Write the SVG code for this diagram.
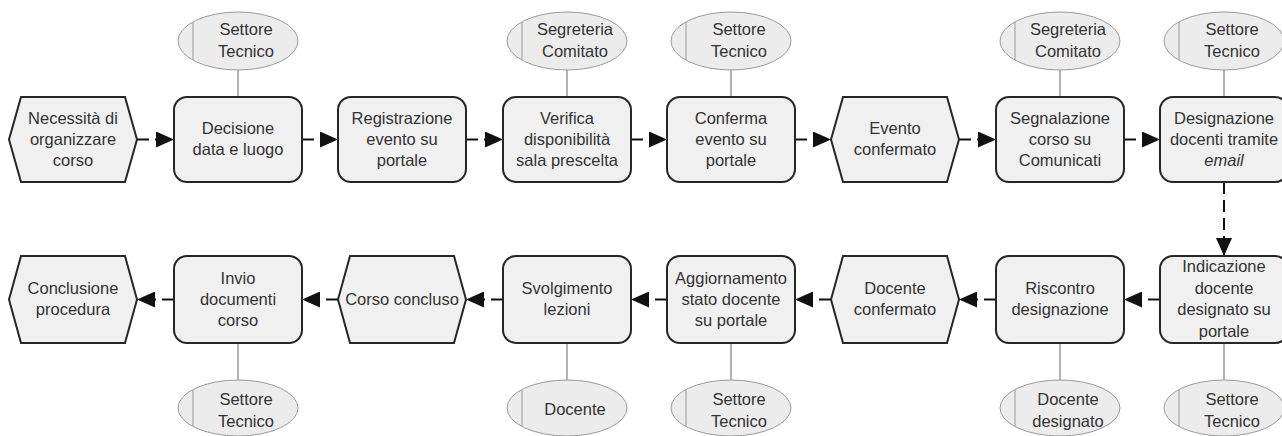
<svg xmlns="http://www.w3.org/2000/svg" width="1282" height="436" viewBox="0 0 1282 436">
<style>
.box{fill:#f0f0f0;stroke:#262626;stroke-width:2}
.ell{fill:#ececec;stroke:#9a9a9a;stroke-width:1}
.bar{stroke:#9a9a9a;stroke-width:1}
.lnk{stroke:#9a9a9a;stroke-width:1.5}
.t{font-family:"Liberation Sans",Arial,sans-serif;font-size:16.5px;fill:#333;text-anchor:middle}
.e{font-family:"Liberation Sans",Arial,sans-serif;font-size:16.5px;fill:#333;text-anchor:middle}
.flow{fill:none;stroke:#111;stroke-width:2;stroke-dasharray:12 6}
</style>
<defs>
<marker id="ah" markerWidth="9" markerHeight="8" refX="9" refY="4" orient="auto" markerUnits="strokeWidth">
<path d="M0,0 L9,4 L0,8 Z" fill="#111"/>
</marker>
</defs>

<g id="connectors">
<line class="flow" x1="137" y1="139.5" x2="174" y2="139.5" marker-end="url(#ah)"/>
<line class="flow" x1="302" y1="139.5" x2="338" y2="139.5" marker-end="url(#ah)"/>
<line class="flow" x1="466" y1="139.5" x2="503" y2="139.5" marker-end="url(#ah)"/>
<line class="flow" x1="631" y1="139.5" x2="667" y2="139.5" marker-end="url(#ah)"/>
<line class="flow" x1="795" y1="139.5" x2="831" y2="139.5" marker-end="url(#ah)"/>
<line class="flow" x1="959" y1="139.5" x2="996" y2="139.5" marker-end="url(#ah)"/>
<line class="flow" x1="1124" y1="139.5" x2="1160" y2="139.5" marker-end="url(#ah)"/>
<line class="flow" x1="1224" y1="182" x2="1224" y2="256" marker-end="url(#ah)"/>
<line class="flow" x1="1160" y1="299.5" x2="1124" y2="299.5" marker-end="url(#ah)"/>
<line class="flow" x1="996" y1="299.5" x2="959" y2="299.5" marker-end="url(#ah)"/>
<line class="flow" x1="831" y1="299.5" x2="795" y2="299.5" marker-end="url(#ah)"/>
<line class="flow" x1="667" y1="299.5" x2="631" y2="299.5" marker-end="url(#ah)"/>
<line class="flow" x1="503" y1="299.5" x2="466" y2="299.5" marker-end="url(#ah)"/>
<line class="flow" x1="338" y1="299.5" x2="302" y2="299.5" marker-end="url(#ah)"/>
<line class="flow" x1="174" y1="299.5" x2="137" y2="299.5" marker-end="url(#ah)"/>
<line class="lnk" x1="238" y1="70" x2="238" y2="97"/>
<line class="lnk" x1="567" y1="70" x2="567" y2="97"/>
<line class="lnk" x1="731" y1="70" x2="731" y2="97"/>
<line class="lnk" x1="1060" y1="70" x2="1060" y2="97"/>
<line class="lnk" x1="1224" y1="70" x2="1224" y2="97"/>
<line class="lnk" x1="238" y1="343" x2="238" y2="380"/>
<line class="lnk" x1="567" y1="343" x2="567" y2="380"/>
<line class="lnk" x1="731" y1="343" x2="731" y2="380"/>
<line class="lnk" x1="1060" y1="343" x2="1060" y2="380"/>
<line class="lnk" x1="1224" y1="343" x2="1224" y2="380"/>
</g>

<!-- top row -->
<g id="n1">
<polygon class="box" points="9,139.5 21,97 125,97 137,139.5 125,182 21,182"/>
<text class="t" x="73" y="124">Necessità di</text>
<text class="t" x="73" y="145">organizzare</text>
<text class="t" x="73" y="166">corso</text>
</g>
<g id="n2">
<rect class="box" x="174" y="97" width="128" height="85" rx="13"/>
<text class="t" x="238" y="134">Decisione</text>
<text class="t" x="238" y="155">data e luogo</text>
</g>
<g id="r2">
<ellipse class="ell" cx="238" cy="41" rx="60" ry="29"/>
<line class="bar" x1="193" y1="22" x2="193" y2="60"/>
<text class="e" x="246" y="35">Settore</text>
<text class="e" x="246" y="57">Tecnico</text>
</g>
<g id="n3">
<rect class="box" x="338" y="97" width="128" height="85" rx="13"/>
<text class="t" x="402" y="124">Registrazione</text>
<text class="t" x="402" y="145">evento su</text>
<text class="t" x="402" y="166">portale</text>
</g>
<g id="n4">
<rect class="box" x="503" y="97" width="128" height="85" rx="13"/>
<text class="t" x="567" y="124">Verifica</text>
<text class="t" x="567" y="145">disponibilità</text>
<text class="t" x="567" y="166">sala prescelta</text>
</g>
<g id="r4">
<ellipse class="ell" cx="567" cy="41" rx="60" ry="29"/>
<line class="bar" x1="522" y1="22" x2="522" y2="60"/>
<text class="e" x="575" y="35">Segreteria</text>
<text class="e" x="575" y="57">Comitato</text>
</g>
<g id="n5">
<rect class="box" x="667" y="97" width="128" height="85" rx="13"/>
<text class="t" x="731" y="124">Conferma</text>
<text class="t" x="731" y="145">evento su</text>
<text class="t" x="731" y="166">portale</text>
</g>
<g id="r5">
<ellipse class="ell" cx="731" cy="41" rx="60" ry="29"/>
<line class="bar" x1="686" y1="22" x2="686" y2="60"/>
<text class="e" x="739" y="35">Settore</text>
<text class="e" x="739" y="57">Tecnico</text>
</g>
<g id="n6">
<polygon class="box" points="831,139.5 843,97 947,97 959,139.5 947,182 843,182"/>
<text class="t" x="895" y="134">Evento</text>
<text class="t" x="895" y="155">confermato</text>
</g>
<g id="n7">
<rect class="box" x="996" y="97" width="128" height="85" rx="13"/>
<text class="t" x="1060" y="124">Segnalazione</text>
<text class="t" x="1060" y="145">corso su</text>
<text class="t" x="1060" y="166">Comunicati</text>
</g>
<g id="r7">
<ellipse class="ell" cx="1060" cy="41" rx="60" ry="29"/>
<line class="bar" x1="1015" y1="22" x2="1015" y2="60"/>
<text class="e" x="1068" y="35">Segreteria</text>
<text class="e" x="1068" y="57">Comitato</text>
</g>
<g id="n8">
<rect class="box" x="1160" y="97" width="128" height="85" rx="13"/>
<text class="t" x="1224" y="124">Designazione</text>
<text class="t" x="1224" y="145">docenti tramite</text>
<text class="t" x="1224" y="166" font-style="italic">email</text>
</g>
<g id="r8">
<ellipse class="ell" cx="1224" cy="41" rx="60" ry="29"/>
<line class="bar" x1="1179" y1="22" x2="1179" y2="60"/>
<text class="e" x="1232" y="35">Settore</text>
<text class="e" x="1232" y="57">Tecnico</text>
</g>

<!-- bottom row -->
<g id="n9">
<rect class="box" x="1160" y="256" width="128" height="87" rx="13"/>
<text class="t" x="1224" y="272">Indicazione</text>
<text class="t" x="1224" y="293.5">docente</text>
<text class="t" x="1224" y="315">designato su</text>
<text class="t" x="1224" y="336.5">portale</text>
</g>
<g id="r9">
<ellipse class="ell" cx="1224" cy="408" rx="60" ry="28"/>
<line class="bar" x1="1179" y1="390" x2="1179" y2="426"/>
<text class="e" x="1232" y="405">Settore</text>
<text class="e" x="1232" y="427">Tecnico</text>
</g>
<g id="n10">
<rect class="box" x="996" y="256" width="128" height="87" rx="13"/>
<text class="t" x="1060" y="294">Riscontro</text>
<text class="t" x="1060" y="315">designazione</text>
</g>
<g id="r10">
<ellipse class="ell" cx="1060" cy="408" rx="60" ry="28"/>
<line class="bar" x1="1015" y1="390" x2="1015" y2="426"/>
<text class="e" x="1068" y="405">Docente</text>
<text class="e" x="1068" y="427">designato</text>
</g>
<g id="n11">
<polygon class="box" points="831,299.5 843,256 947,256 959,299.5 947,343 843,343"/>
<text class="t" x="895" y="294">Docente</text>
<text class="t" x="895" y="315">confermato</text>
</g>
<g id="n12">
<rect class="box" x="667" y="256" width="128" height="87" rx="13"/>
<text class="t" x="731" y="284">Aggiornamento</text>
<text class="t" x="731" y="305">stato docente</text>
<text class="t" x="731" y="326">su portale</text>
</g>
<g id="r12">
<ellipse class="ell" cx="731" cy="408" rx="60" ry="28"/>
<line class="bar" x1="686" y1="390" x2="686" y2="426"/>
<text class="e" x="739" y="405">Settore</text>
<text class="e" x="739" y="427">Tecnico</text>
</g>
<g id="n13">
<rect class="box" x="503" y="256" width="128" height="87" rx="13"/>
<text class="t" x="567" y="294">Svolgimento</text>
<text class="t" x="567" y="315">lezioni</text>
</g>
<g id="r13">
<ellipse class="ell" cx="567" cy="408" rx="60" ry="28"/>
<line class="bar" x1="522" y1="390" x2="522" y2="426"/>
<text class="e" x="575" y="415">Docente</text>
</g>
<g id="n14">
<polygon class="box" points="338,299.5 350,256 454,256 466,299.5 454,343 350,343"/>
<text class="t" x="402" y="305">Corso concluso</text>
</g>
<g id="n15">
<rect class="box" x="174" y="256" width="128" height="87" rx="13"/>
<text class="t" x="238" y="284">Invio</text>
<text class="t" x="238" y="305">documenti</text>
<text class="t" x="238" y="326">corso</text>
</g>
<g id="r15">
<ellipse class="ell" cx="238" cy="408" rx="60" ry="28"/>
<line class="bar" x1="193" y1="390" x2="193" y2="426"/>
<text class="e" x="246" y="405">Settore</text>
<text class="e" x="246" y="427">Tecnico</text>
</g>
<g id="n16">
<polygon class="box" points="9,299.5 21,256 125,256 137,299.5 125,343 21,343"/>
<text class="t" x="73" y="294">Conclusione</text>
<text class="t" x="73" y="315">procedura</text>
</g>
</svg>
